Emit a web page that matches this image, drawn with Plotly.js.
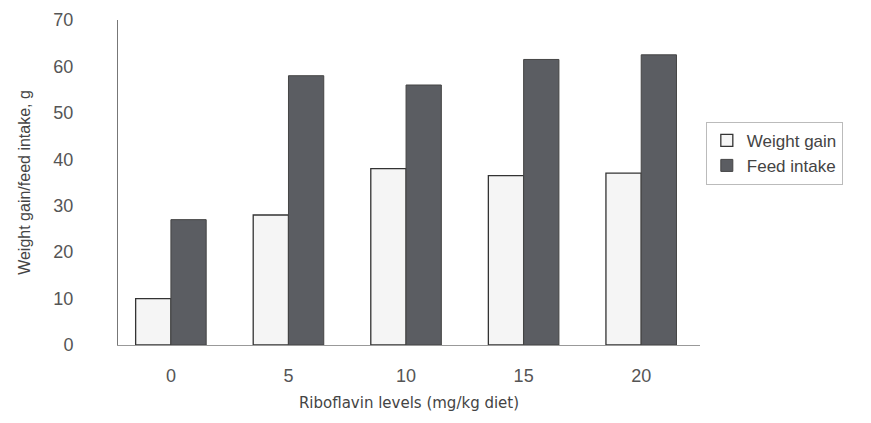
<!DOCTYPE html>
<html>
<head>
<meta charset="utf-8">
<script src="https://cdn.plot.ly/plotly-3.0.1.min.js"></script>
<style>html,body{margin:0;padding:0;background:#fff;}#chart{width:871px;height:423px;}</style>
</head>
<body>
<div id="chart"></div>
<script>
const categories = ["0", "5", "10", "15", "20"];
const weightGain = [10, 28, 38, 36.5, 37];
const feedIntake = [27, 58, 56, 61.5, 62.5];
const yTicks = [0, 10, 20, 30, 40, 50, 60, 70];

const traces = [
  {
    type: "bar", name: "Weight gain", x: categories, y: weightGain,
    marker: {color: "#f5f5f5", line: {color: "#333", width: 1.3}}
  },
  {
    type: "bar", name: "Feed intake", x: categories, y: feedIntake,
    marker: {color: "#5b5d62", line: {color: "#444", width: 1}}
  }
];

const layout = {
  width: 871, height: 423,
  margin: {l: 118, r: 171, t: 20, b: 78},
  paper_bgcolor: "#fff", plot_bgcolor: "#fff",
  font: {family: "Liberation Sans, Arial, sans-serif", color: "#555", size: 15},
  barmode: "group", bargap: 0.4, bargroupgap: 0,
  showlegend: true,
  legend: {
    x: 1.01, y: 0.59, xanchor: "left", yanchor: "middle",
    bordercolor: "#bbb", borderwidth: 1,
    font: {size: 17, color: "#444"},
    tracegroupgap: 0, itemwidth: 30
  },
  xaxis: {
    type: "category", range: [-0.45, 4.5],
    showline: true, linecolor: "#999", linewidth: 1,
    ticks: "", showgrid: false, zeroline: false,
    tickfont: {size: 18, color: "#555"},
    ticklabelstandoff: 14,
    title: {text: "Riboflavin levels (mg/kg diet)", font: {family: "DejaVu Sans, sans-serif", size: 15, color: "#444"}, standoff: 12}
  },
  yaxis: {
    range: [0, 70], tickvals: yTicks, ticktext: yTicks.map(String),
    showline: true, linecolor: "#777", linewidth: 1,
    ticks: "", showgrid: false, zeroline: false,
    tickfont: {size: 18, color: "#555"},
    ticklabelstandoff: 40,
    title: {text: "Weight gain/feed intake, g", font: {size: 16, color: "#444"}, standoff: 18}
  }
};

Plotly.newPlot("chart", traces, layout, {displayModeBar: false, staticPlot: true});
</script>
</body>
</html>
